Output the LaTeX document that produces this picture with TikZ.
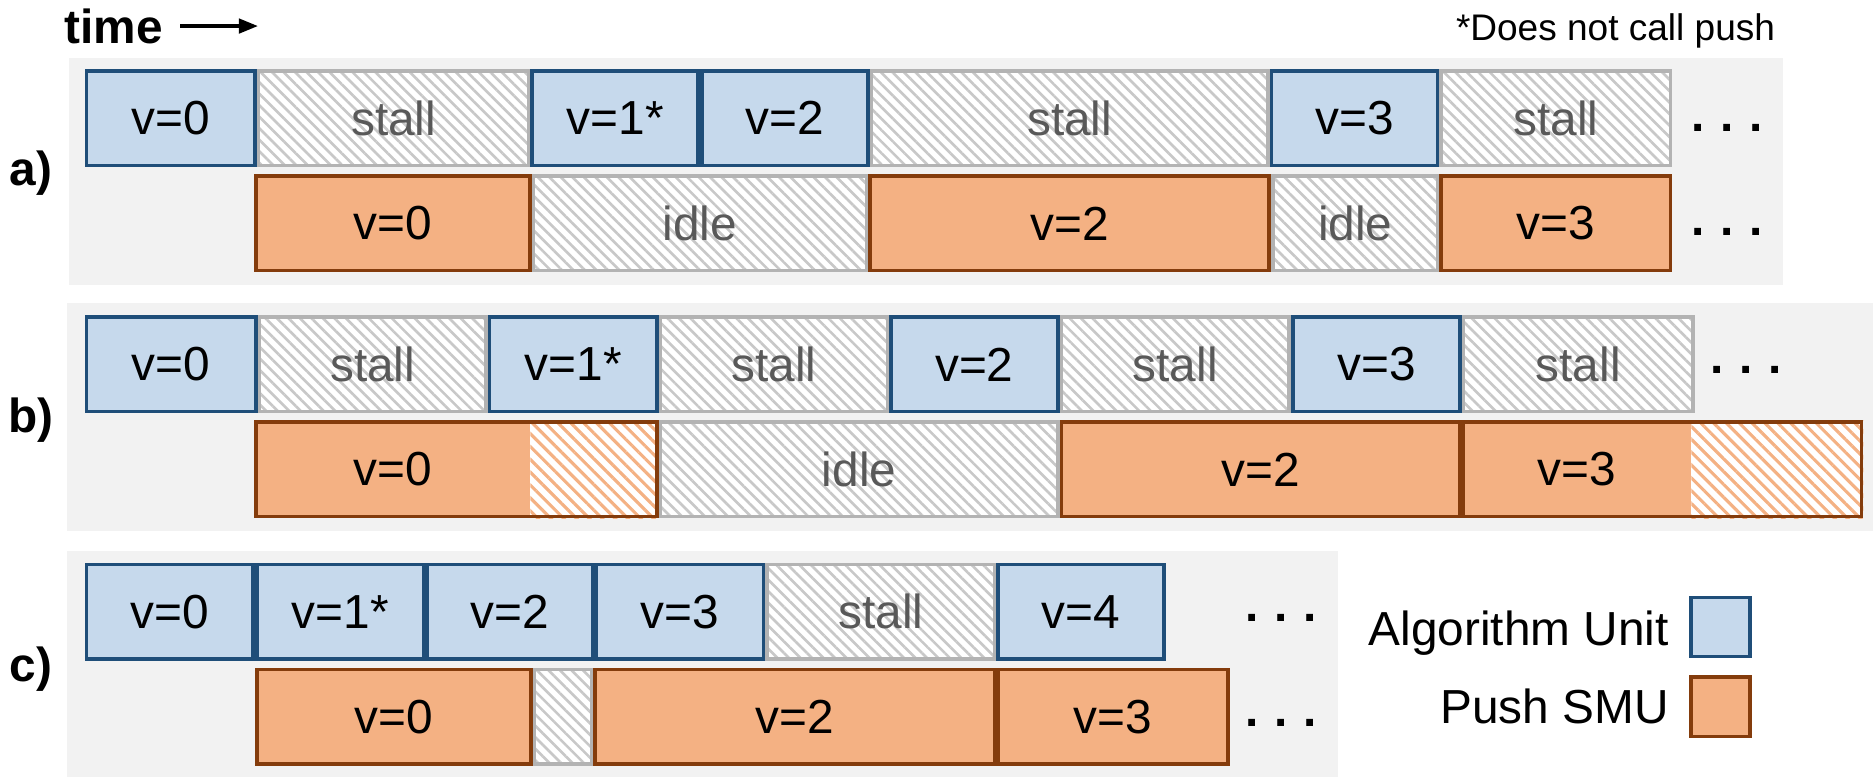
\documentclass[tikz,border=0pt]{standalone}
\usepackage{fontspec}
\setmainfont{Liberation Sans}
\usetikzlibrary{patterns.meta,arrows.meta}

\definecolor{panelbg}{HTML}{F2F2F2}
\definecolor{aufill}{HTML}{C6D9EC}
\definecolor{audraw}{HTML}{1F4E79}
\definecolor{smufill}{HTML}{F4B183}
\definecolor{smudraw}{HTML}{843C0C}
\definecolor{waitdraw}{HTML}{B3B3B3}
\definecolor{waitline}{HTML}{C8C8C8}
\definecolor{waittext}{HTML}{595959}

% framed block: style, name, x1, x2, y1, y2, text (outer edges given)
\newcommand\blk[7]{\node[#1, minimum width={(#4-#3)*0.5pt-1.5pt}, minimum height={(#6-#5)*0.5pt-1.5pt}] (#2) at ({(#3+#4)/2},{(#5+#6)/2}) {#7};}
% unframed block: exact extents
\newcommand\blkf[7]{\node[#1, minimum width={(#4-#3)*0.5pt}, minimum height={(#6-#5)*0.5pt}] (#2) at ({(#3+#4)/2},{(#5+#6)/2}) {#7};}

\tikzset{
  au/.style={draw=audraw, fill=aufill, line width=1.5pt},
  smu/.style={draw=smudraw, fill=smufill, line width=1.5pt},
  wait/.style={draw=waitdraw, line width=1.5pt, preaction={fill=white},
    pattern={Lines[angle=-45,distance=3.4pt,line width=1.1pt]}, pattern color=waitline, text=waittext},
  smusolid/.style={fill=smufill},
  smutail/.style={preaction={fill=white},
    pattern={Lines[angle=-45,distance=3.8pt,line width=1.3pt]}, pattern color=smufill},
  smuframe/.style={draw=smudraw, line width=1.5pt},
  dots/.style={font=\fontsize{20}{24}\selectfont\bfseries, anchor=base},
  tag/.style={font=\fontsize{20}{24}\selectfont\bfseries},
}

\begin{document}
\begin{tikzpicture}[x=0.5pt, y=-0.5pt, inner sep=0pt, outer sep=0pt, font=\fontsize{20}{24}\selectfont]
\useasboundingbox (0,0) rectangle (1568,650);

% header
\node[tag, anchor=base west] (time) at (54,36) {time};
\coordinate (tS) at (151,21.8);
\coordinate (tE) at (216,21.8);
\draw[line width=1.5pt, -{Triangle[length=8pt,width=6pt]}] (tS) -- (tE);
\node[anchor=base east, font=\fontsize{15.5}{18}\selectfont] (note) at (1486,34) {*Does not call push};

% ---------- a) ----------
\fill[panelbg] (57.5,48.5) rectangle (1493,238.5);
\node[tag] (la) at (26,145) {a)};
\blk{wait}{aS1}{215}{444}{58}{140}{stall}
\blk{wait}{aS2}{728}{1063}{58}{140}{stall}
\blk{wait}{aS3}{1205}{1400}{58}{140}{stall}
\blk{au}{aA0}{71}{215}{58}{140}{v=0}
\blk{au}{aA1}{444}{586}{58}{140}{v=1*}
\blk{au}{aA2}{586}{728}{58}{140}{v=2}
\blk{au}{aA3}{1063}{1205}{58}{140}{v=3}
\blk{wait}{aI1}{445}{727}{146}{228}{idle}
\blk{wait}{aI2}{1064}{1205}{146}{228}{idle}
\blk{smu}{aP0}{213}{445}{146}{228}{v=0}
\blk{smu}{aP2}{727}{1064}{146}{228}{v=2}
\blk{smu}{aP3}{1205}{1400}{146}{228}{v=3}
\node[dots] (aD1) at (1446,110) {.\,\,.\,\,.};
\node[dots] (aD2) at (1446,197) {.\,\,.\,\,.};

% ---------- b) ----------
\fill[panelbg] (56,253.7) rectangle (1568,444.5);
\node[tag] (lb) at (26,352) {b)};
\blk{wait}{bS1}{215.6}{408.4}{264}{346}{stall}
\blk{wait}{bS2}{551.5}{744.3}{264}{346}{stall}
\blk{wait}{bS3}{887}{1080.8}{264}{346}{stall}
\blk{wait}{bS4}{1223.8}{1418.6}{264}{346}{stall}
\blk{au}{bA0}{71}{215.6}{264}{346}{v=0}
\blk{au}{bA1}{408.4}{551.5}{264}{346}{v=1*}
\blk{au}{bA2}{744.3}{887}{264}{346}{v=2}
\blk{au}{bA3}{1080.8}{1223.8}{264}{346}{v=3}
\blk{wait}{bI1}{551.5}{887}{352}{434}{idle}
\blk{smu}{bP2}{887}{1223.8}{352}{434}{v=2}
\blkf{smusolid}{bP0s}{213}{444}{352}{434}{v=0}
\blkf{smutail}{bP0t}{444}{551.5}{352}{434}{}
\blk{smuframe}{bP0}{213}{551.5}{352}{434}{}
\blkf{smusolid}{bP3s}{1223.8}{1416}{352}{434}{v=3}
\blkf{smutail}{bP3t}{1416}{1560}{352}{434}{}
\blk{smuframe}{bP3}{1223.8}{1560}{352}{434}{}
\node[dots] (bD1) at (1462,313) {.\,\,.\,\,.};

% ---------- c) ----------
\fill[panelbg] (56,461) rectangle (1120,651);
\node[tag] (lc) at (26,560) {c)};
\blk{wait}{cS1}{640.7}{834}{471}{553}{stall}
\blk{au}{cA0}{71}{213.5}{471}{553}{v=0}
\blk{au}{cA1}{213.5}{356}{471}{553}{v=1*}
\blk{au}{cA2}{356}{497.6}{471}{553}{v=2}
\blk{au}{cA3}{497.6}{640.7}{471}{553}{v=3}
\blk{au}{cA4}{834}{976}{471}{553}{v=4}
\blk{wait}{cI1}{445.8}{496.5}{559}{641}{}
\blk{smu}{cP0}{213.5}{445.8}{559}{641}{v=0}
\blk{smu}{cP2}{496.5}{834}{559}{641}{v=2}
\blk{smu}{cP3}{834}{1029.7}{559}{641}{v=3}
\node[dots] (cD1) at (1072.5,520.5) {.\,\,.\,\,.};
\node[dots] (cD2) at (1072.5,608) {.\,\,.\,\,.};

% legend
\node[anchor=base east] (lgA) at (1397,540) {Algorithm Unit};
\blk{au}{lgAbox}{1414}{1466.5}{498.7}{551}{}
\node[anchor=base east] (lgP) at (1397,605.5) {Push SMU};
\blk{smu}{lgPbox}{1414}{1466.5}{565}{618}{}
\end{tikzpicture}
\end{document}
